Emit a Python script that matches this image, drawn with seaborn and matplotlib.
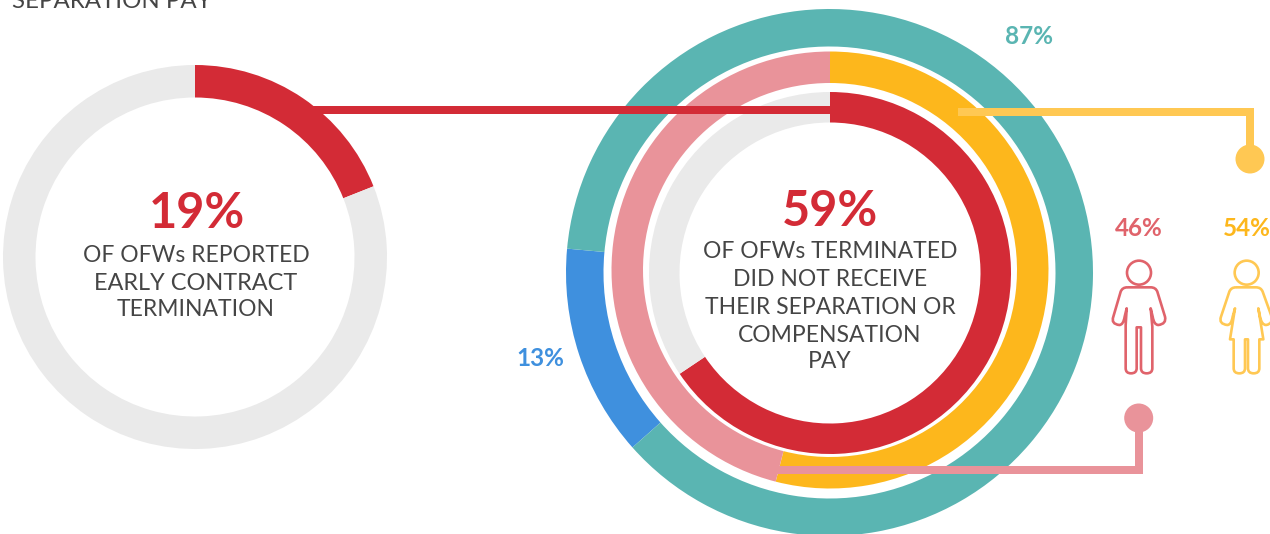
import matplotlib
matplotlib.use("Agg")
import matplotlib.pyplot as plt
import seaborn as sns
from matplotlib.path import Path
from matplotlib.patches import PathPatch, Circle

# data as drawn
left_values = [19, 81]
outer_values = [13, 87]
middle_values = [54, 46]
inner_values = [65.6, 34.4]
left_labels = ["OF OFWs REPORTED", "EARLY CONTRACT", "TERMINATION"]
right_labels = ["OF OFWs TERMINATED", "DID NOT RECEIVE", "THEIR SEPARATION OR", "COMPENSATION", "PAY"]

sns.set_theme(style="white")
plt.rcParams["font.family"] = ["Lato", "DejaVu Sans"]

RED, GREY, TEAL, BLUE, AMBER, PINK = sns.color_palette(
    ["#D32B36", "#EAEAEA", "#5AB5B2", "#3F90DE", "#FDB71C", "#E9939A"])
TXT = "#454545"; LY = "#FFC853"; MR = "#E0636B"
W, H = 1270, 534

fig = plt.figure(figsize=(12.7, 5.34), dpi=100)
ax = fig.add_axes([0, 0, 1, 1])

def Y(y):
    return H - y

def ring(vals, cols, cx, cy, r_out, r_in, start):
    ax.pie(vals, colors=cols, radius=r_out, center=(cx, Y(cy)), startangle=start,
           counterclock=False, wedgeprops=dict(width=r_out - r_in, linewidth=0))

ring(left_values, [RED, GREY], 195, 257, 192, 159.5, 90)
ring(outer_values, [BLUE, TEAL], 829.5, 272.5, 263.5, 226, -138.4)
ring(middle_values, [AMBER, PINK], 830, 270, 218.5, 187, 90)
ring(inner_values, [RED, GREY], 830, 273, 181, 150.5, 90)
ax.set_xlim(0, W); ax.set_ylim(0, H); ax.set_aspect("equal"); ax.axis("off")

def conn(xs, ys, c, lw=8):
    ax.plot(xs, [Y(v) for v in ys], color=c, lw=lw * 0.72, solid_capstyle="butt",
            solid_joinstyle="miter", zorder=4)

conn([312, 832], [109.5, 109.5], RED)
conn([958, 1250, 1250], [112, 112, 150], LY)
ax.add_patch(Circle((1250, Y(159)), 14.5, color=LY, lw=0, zorder=4))
conn([772, 1139, 1139], [469.5, 469.5, 425], PINK)
ax.add_patch(Circle((1138.7, Y(418)), 14.5, color=PINK, lw=0, zorder=4))

def person(points, head, col, ox=1090, oy=200):
    # points: (x, y, code) in zoomed icon units, 3 units per pixel
    vs = [(ox + x / 3, Y(oy + y / 3)) for x, y, _ in points]
    cs = [c for _, _, c in points]
    ax.add_patch(PathPatch(Path(vs, cs), fc="none", ec=col, lw=1.9, zorder=4, joinstyle="round"))
    ax.add_patch(Circle((ox + head[0] / 3, Y(oy + head[1] / 3)), 12, fc="none", ec=col, lw=1.9, zorder=4))

M, L, Q = Path.MOVETO, Path.LINETO, Path.CURVE3
male = [(112,262,M),(182,262,L),(197,262,Q),(202,275,Q),(225,350,L),(230,372,Q),(205,375,Q),
        (192,375,Q),(188,350,Q),(182,325,L),(187,380,L),(187,505,L),(187,520,Q),(170,520,Q),
        (153,520,Q),(153,505,Q),(153,382,L),(140,382,L),(140,505,L),(140,520,Q),(123,520,Q),
        (107,520,Q),(107,505,Q),(107,375,L),(110,325,L),(104,350,L),(100,375,Q),(88,375,Q),
        (62,372,Q),(70,350,Q),(92,275,L),(97,262,Q),(112,262,Q)]
female = [(438,262,M),(498,262,L),(513,262,Q),(518,275,Q),(545,350,L),(552,372,Q),(528,375,Q),
          (515,375,Q),(510,350,Q),(505,325,L),(520,418,L),(508,418,L),(508,505,L),(508,520,Q),
          (491,520,Q),(474,520,Q),(474,505,Q),(474,418,L),(465,418,L),(465,505,L),(465,520,Q),
          (448,520,Q),(431,520,Q),(431,505,Q),(431,418,L),(420,418,L),(435,325,L),(428,350,L),
          (424,375,Q),(412,375,Q),(385,372,Q),(393,350,Q),(418,275,L),(423,262,Q),(438,262,Q)]
person(male, (147, 218), MR)
person(female, (470, 218), LY)

def t(x, y, s, size, col, weight="normal", ha="center"):
    ax.text(x, Y(y), s, fontsize=size, color=col, fontweight=weight, ha=ha, va="center", zorder=5)

t(12, 2, "SEPARATION PAY", 17.3, TXT, ha="left")
t(197, 214, "19%", 35, RED, "bold")
for yy, s, sz in zip([255, 283, 310], left_labels, [16.5, 16.9, 16.5]):
    t(196, yy, s, sz, TXT)
t(830, 212, "59%", 35, RED, "bold")
for yy, s in zip([252, 280, 307, 335, 362], right_labels):
    t(830, yy, s, 16.5, TXT)
t(1029, 36, "87%", 17.5, TEAL, "bold")
t(540, 359, "13%", 17.5, BLUE, "bold")
t(1139, 228, "46%", 17.5, MR, "bold")
t(1247, 228, "54%", 17.5, AMBER, "bold")

fig.savefig("out.png", dpi=100)
